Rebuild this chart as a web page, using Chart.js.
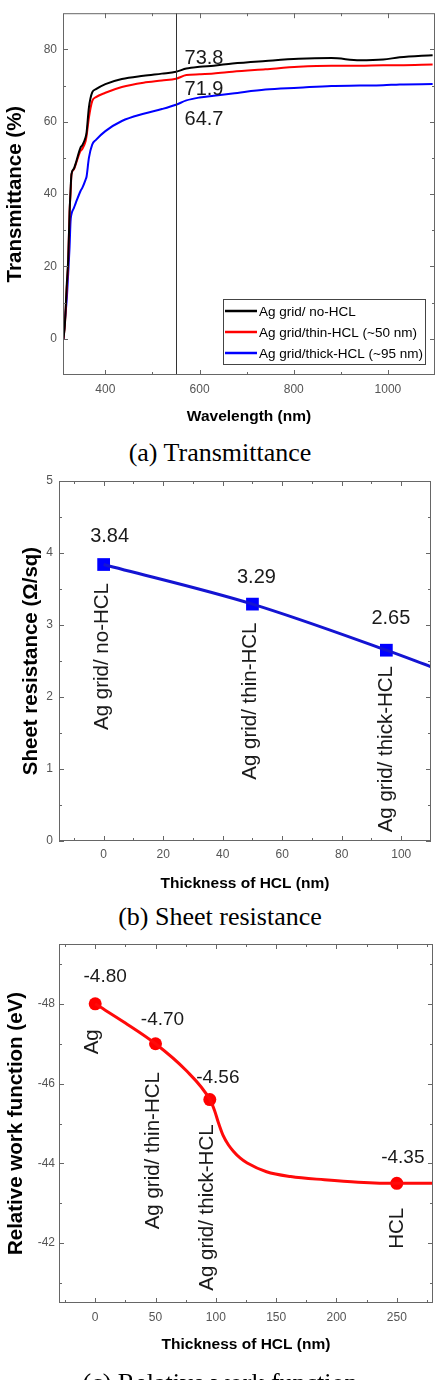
<!DOCTYPE html>
<html>
<head>
<meta charset="utf-8">
<script src="https://cdn.jsdelivr.net/npm/chart.js@4.4.1/dist/chart.umd.min.js"></script>
<style>
  body { margin: 0; background: #fff; width: 440px; height: 1380px; overflow: hidden; position: relative; }
  .panel { position: absolute; left: 0; width: 440px; }
  .cap { position: absolute; left: 0; width: 440px; text-align: center; line-height: 30px;
         font: 26px "Liberation Serif", "Times New Roman", serif; color: #000; }
</style>
</head>
<body>
<div class="panel" style="top:0;height:430px"><canvas id="chartTrans"></canvas></div>
<div class="cap" style="top:438px">(a) Transmittance</div>
<div class="panel" style="top:460px;height:440px"><canvas id="chartSheet"></canvas></div>
<div class="cap" style="top:902px">(b) Sheet resistance</div>
<div class="panel" style="top:930px;height:450px"><canvas id="chartWork"></canvas></div>
<div class="cap" style="top:1368px">(c) Relative work function</div>

<script>
// ---- (a) transmittance spectra ----
const wavelength = [311, 314, 318, 321, 324, 326, 328, 333, 337, 347, 351, 358, 360, 365, 372, 380, 400, 435, 481, 520, 550, 572, 600, 630, 670, 740, 810, 880, 940, 990, 1025, 1095];
const transNoHcl = [0, 4, 15, 22, 35, 41, 45.5, 47, 48.5, 52.8, 53.5, 55.7, 57, 63.9, 68.1, 69, 70.4, 71.8, 72.7, 73.3, 73.8, 74.7, 75.2, 75.5, 76.1, 76.8, 77.4, 77.6, 77.0, 77.2, 77.8, 78.4];
const transThinHcl = [0, 4, 14, 21.3, 35.2, 40, 45.4, 46.8, 48.2, 51.9, 52.5, 54.6, 56, 61.1, 65.7, 66.8, 68, 69.6, 70.8, 71.4, 71.9, 72.9, 73.1, 73.3, 73.8, 74.5, 75.2, 75.5, 75.5, 75.6, 75.6, 75.8];
const transThickHcl = [0, 5, 11, 18, 25.5, 32.4, 34.5, 36.1, 37.5, 40.8, 41.7, 44, 44.8, 50, 53.7, 55, 57.4, 60.2, 62.2, 63.5, 64.7, 65.9, 66.7, 67.2, 67.8, 68.9, 69.4, 69.9, 70.0, 70.1, 70.3, 70.4];
const transLabels = ["Ag grid/ no-HCL", "Ag grid/thin-HCL (~50 nm)", "Ag grid/thick-HCL (~95 nm)"];
const markWavelength = 550;
const transXTicks = [400, 600, 800, 1000], transXMinor = [500, 700, 900];
const transYTicks = [0, 20, 40, 60, 80], transYMinor = [10, 30, 50, 70];

// ---- (b) sheet resistance ----
const sheetThick = [0, 50, 95];
const sheetRes = [3.84, 3.29, 2.65];
const sheetCurveX = [0, 50, 95, 110];
const sheetCurveY = [3.84, 3.29, 2.65, 2.42];
const sheetNames = ["Ag grid/ no-HCL", "Ag grid/ thin-HCL", "Ag grid/ thick-HCL"];
const sheetXTicks = [0, 20, 40, 60, 80, 100], sheetXMinor = [-10, 10, 30, 50, 70, 90];
const sheetYTicks = [0, 1, 2, 3, 4, 5], sheetYMinor = [0.5, 1.5, 2.5, 3.5, 4.5];

// ---- (c) relative work function ----
const workThick = [0, 50, 95, 250];
const workFn = [-4.80, -4.70, -4.56, -4.35];
const workCurveX = [0, 25, 50, 75, 95, 99, 102, 106, 110.5, 114.7, 120.3, 126, 142, 162, 190, 218, 250, 280];
const workCurveY = [-4.80, -4.752, -4.70, -4.634, -4.56, -4.532, -4.503, -4.470, -4.446, -4.430, -4.413, -4.401, -4.379, -4.367, -4.359, -4.353, -4.35, -4.35];
const workNames = ["Ag", "Ag grid/ thin-HCL", "Ag grid/ thick-HCL", "HCL"];
const workXTicks = [0, 50, 100, 150, 200, 250], workXMinor = [-25, 25, 75, 125, 175, 225, 275];
const workYTicks = [-4.8, -4.6, -4.4, -4.2], workYMinor = [-4.9, -4.7, -4.5, -4.3, -4.1];

const SANS = '"Liberation Sans", Arial, Helvetica, sans-serif';
Chart.defaults.font.family = SANS;
Chart.defaults.animation = false;
Chart.defaults.plugins.legend.display = false;
Chart.defaults.plugins.tooltip.enabled = false;

const pts = (xs, ys) => xs.map((x, i) => ({ x, y: ys[i] }));

// box frame + inward major/minor ticks on all four sides
const frameTicks = {
  id: 'frameTicks',
  afterDatasetsDraw(chart, args, o) {
    const { ctx, chartArea: a, scales: { x, y } } = chart;
    ctx.save();
    ctx.strokeStyle = '#666';
    ctx.lineWidth = 1;
    const seg = (x1, y1, x2, y2) => { ctx.beginPath(); ctx.moveTo(x1, y1); ctx.lineTo(x2, y2); ctx.stroke(); };
    if (o.vline != null) {
      const vx = Math.round(x.getPixelForValue(o.vline)) + 0.5;
      ctx.strokeStyle = '#333';
      seg(vx, a.top, vx, a.bottom);
      ctx.strokeStyle = '#666';
    }
    ctx.strokeRect(a.left + 0.5, a.top + 0.5, a.width - 1, a.height - 1);
    const xt = (vals, len) => vals.forEach(v => {
      const p = Math.round(x.getPixelForValue(v)) + 0.5;
      seg(p, a.bottom, p, a.bottom - len); seg(p, a.top, p, a.top + len);
    });
    const yt = (vals, len) => vals.forEach(v => {
      const p = Math.round(y.getPixelForValue(v)) + 0.5;
      seg(a.left, p, a.left + len, p); seg(a.right, p, a.right - len, p);
    });
    xt(x.ticks.map(t => t.value), 5); xt(o.xMinor, 3);
    yt(y.ticks.map(t => t.value), 5); yt(o.yMinor, 3);
    ctx.restore();
  }
};

// text notes anchored on data values, optional vertical text
const notes = {
  id: 'notes',
  afterDatasetsDraw(chart, args, o) {
    const { ctx, scales: { x, y } } = chart;
    ctx.save();
    ctx.fillStyle = '#1a1a1a';
    ctx.textAlign = 'center';
    ctx.textBaseline = 'middle';
    (o.items || []).forEach(it => {
      ctx.save();
      ctx.translate(x.getPixelForValue(it.x) + it.dx, y.getPixelForValue(it.y) + it.dy);
      if (it.rotate) ctx.rotate(-Math.PI / 2);
      ctx.font = `${it.size || 20}px ${SANS}`;
      ctx.fillText(it.text, 0, 0);
      ctx.restore();
    });
    ctx.restore();
  }
};

// framed legend in the lower right corner of the plot
const boxLegend = {
  id: 'boxLegend',
  afterDraw(chart, args, o) {
    if (!o.show) return;
    const { ctx, chartArea: a } = chart;
    const x0 = a.right - o.right - o.width, y0 = a.bottom - o.bottom - o.height;
    ctx.save();
    ctx.fillStyle = '#fff';
    ctx.fillRect(x0, y0, o.width, o.height);
    ctx.strokeStyle = '#444';
    ctx.lineWidth = 1;
    ctx.strokeRect(x0 + 0.5, y0 + 0.5, o.width, o.height);
    ctx.font = `${o.size}px ${SANS}`;
    ctx.textBaseline = 'middle';
    chart.data.datasets.forEach((ds, i) => {
      const yy = y0 + o.first + i * o.gap;
      ctx.strokeStyle = ds.borderColor;
      ctx.lineWidth = 2.5;
      ctx.beginPath(); ctx.moveTo(x0 + 2, yy); ctx.lineTo(x0 + 2 + o.sample, yy); ctx.stroke();
      ctx.fillStyle = '#000';
      ctx.fillText(ds.label, x0 + 4 + o.sample, yy + 1);
    });
    ctx.restore();
  }
};

function axis(c) {
  const horiz = c.horiz;
  return {
    type: 'linear', min: c.min, max: c.max, reverse: !!c.reverse,
    grid: { display: false, drawTicks: false },
    border: { display: false },
    afterBuildTicks: s => { s.ticks = c.ticks.map(v => ({ value: v })); },
    afterFit: s => { if (horiz) s.height = c.size; else s.width = c.size; },
    ticks: {
      padding: c.tickPad, color: '#555', font: { size: 12 }, autoSkip: false, maxRotation: 0,
      callback: c.fmt || (v => v),
    },
    title: {
      display: true, text: c.title, color: '#000',
      font: { size: horiz ? 15.5 : 20.5, weight: 'bold' },
      padding: horiz ? { top: 0, bottom: c.titlePad } : { top: c.titlePad, bottom: 0 },
    },
  };
}

// (a)
new Chart(document.getElementById('chartTrans'), {
  type: 'line',
  data: {
    datasets: [
      { label: transLabels[0], data: pts(wavelength, transNoHcl), borderColor: '#000000' },
      { label: transLabels[1], data: pts(wavelength, transThinHcl), borderColor: '#ff0000' },
      { label: transLabels[2], data: pts(wavelength, transThickHcl), borderColor: '#0000ff' },
    ].map(d => ({ ...d, borderWidth: 2, pointRadius: 0, cubicInterpolationMode: 'monotone' })),
  },
  options: {
    responsive: true, maintainAspectRatio: false,
    layout: { padding: { top: 13, right: 5, left: 0, bottom: 0 } },
    scales: {
      x: axis({ horiz: true, min: 310, max: 1100, ticks: transXTicks, size: 55, tickPad: 7, title: 'Wavelength (nm)', titlePad: 4 }),
      y: axis({ min: -10, max: 90, ticks: transYTicks, size: 63, tickPad: 6, title: 'Transmittance (%)', titlePad: 3 }),
    },
    plugins: {
      frameTicks: { xMinor: transXMinor, yMinor: transYMinor, vline: markWavelength },
      notes: {
        items: [transNoHcl, transThinHcl, transThickHcl].map((s, i) => {
          const v = s[wavelength.indexOf(markWavelength)];
          return { text: v.toFixed(1), x: markWavelength, y: v, dx: 28, dy: [-13, 11, 15][i] };
        }),
      },
      boxLegend: { show: true, right: 10, bottom: 11, width: 202, height: 65, first: 12, gap: 21, sample: 32, size: 13.5 },
    },
  },
  plugins: [frameTicks, notes, boxLegend],
});

// (b)
new Chart(document.getElementById('chartSheet'), {
  type: 'line',
  data: {
    datasets: [
      { data: pts(sheetCurveX, sheetCurveY), borderColor: '#1414d2', borderWidth: 3, pointRadius: 0, cubicInterpolationMode: 'monotone' },
      { data: pts(sheetThick, sheetRes), showLine: false, pointStyle: 'rect', pointRadius: 9,
        backgroundColor: '#0000ff', borderColor: '#0000ff', borderWidth: 0 },
    ],
  },
  options: {
    responsive: true, maintainAspectRatio: false,
    layout: { padding: { top: 21, right: 7, left: 0, bottom: 0 } },
    scales: {
      x: axis({ horiz: true, min: -15, max: 110, ticks: sheetXTicks, size: 59, tickPad: 6, title: 'Thickness of HCL (nm)', titlePad: 7 }),
      y: axis({ min: 0, max: 5, ticks: sheetYTicks, size: 59, tickPad: 6, title: 'Sheet resistance (Ω/sq)', titlePad: 19 }),
    },
    plugins: {
      frameTicks: { xMinor: sheetXMinor, yMinor: sheetYMinor },
      notes: {
        items: [
          ...sheetThick.map((t, i) => ({ text: sheetRes[i].toFixed(2), x: t, y: sheetRes[i], dx: [6, 4, 4.5][i], dy: [-28, -27, -32][i] })),
          ...sheetThick.map((t, i) => ({ text: sheetNames[i], x: t, y: sheetRes[i], dx: [-1, -2, 0][i], dy: [92, 97, 99][i], rotate: true, size: 20.5 })),
        ],
      },
    },
  },
  plugins: [frameTicks, notes],
});

// (c)
new Chart(document.getElementById('chartWork'), {
  type: 'line',
  data: {
    datasets: [
      { data: pts(workCurveX, workCurveY), borderColor: '#ff0a0a', borderWidth: 3, pointRadius: 0, cubicInterpolationMode: 'monotone' },
      { data: pts(workThick, workFn), showLine: false, pointRadius: 6.5,
        backgroundColor: '#ff0000', borderColor: '#ff0000', borderWidth: 0 },
    ],
  },
  options: {
    responsive: true, maintainAspectRatio: false,
    layout: { padding: { top: 14, right: 7, left: 0, bottom: 0 } },
    scales: {
      x: axis({ horiz: true, min: -30, max: 280, ticks: workXTicks, size: 77, tickPad: 7, title: 'Thickness of HCL (nm)', titlePad: 26 }),
      y: axis({ min: -4.95, max: -4.05, reverse: true, ticks: workYTicks, size: 59, tickPad: 4, title: 'Relative work function (eV)', titlePad: 4,
        fmt: v => v.toFixed(1).replace('.', '') }),
    },
    plugins: {
      frameTicks: { xMinor: workXMinor, yMinor: workYMinor },
      notes: {
        items: [
          ...workThick.map((t, i) => ({ text: workFn[i].toFixed(2), x: t, y: workFn[i], dx: [10, 7, 8, 6][i], dy: [-27, -24, -22, -26][i], size: 19 })),
          ...workThick.map((t, i) => ({ text: workNames[i], x: t, y: workFn[i], dx: [-3, -2, -2, 1][i], dy: [38, 107, 108, 45][i], rotate: true, size: 20.5 })),
        ],
      },
    },
  },
  plugins: [frameTicks, notes],
});
</script>
</body>
</html>
